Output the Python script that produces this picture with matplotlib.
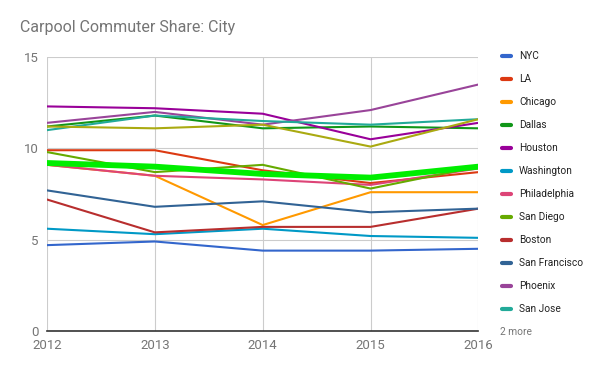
import matplotlib.pyplot as plt
from matplotlib.lines import Line2D

plt.rcParams["font.family"] = ["Roboto", "DejaVu Sans"]

years = [2012, 2013, 2014, 2015, 2016]

nyc = [4.7, 4.9, 4.4, 4.4, 4.5]
la = [9.9, 9.9, 8.8, 8.1, 8.7]
chicago = [9.1, 8.5, 5.8, 7.6, 7.6]
dallas = [11.2, 11.8, 11.1, 11.2, 11.1]
houston = [12.3, 12.2, 11.9, 10.5, 11.4]
washington = [5.6, 5.3, 5.6, 5.2, 5.1]
philadelphia = [9.1, 8.5, 8.3, 8.0, 8.9]
san_diego = [9.8, 8.7, 9.1, 7.8, 9.0]
boston = [7.2, 5.4, 5.7, 5.7, 6.7]
san_francisco = [7.7, 6.8, 7.1, 6.5, 6.7]
phoenix = [11.4, 12.0, 11.3, 12.1, 13.5]
san_jose = [11.0, 11.8, 11.5, 11.3, 11.6]
extra_olive = [11.2, 11.1, 11.3, 10.1, 11.6]
extra_green = [9.2, 9.0, 8.6, 8.4, 9.0]

series = [
    ("NYC", nyc, "#3366cc"),
    ("LA", la, "#dc3912"),
    ("Chicago", chicago, "#ff9900"),
    ("Dallas", dallas, "#109618"),
    ("Houston", houston, "#990099"),
    ("Washington", washington, "#0099c6"),
    ("Philadelphia", philadelphia, "#dd4477"),
    ("San Diego", san_diego, "#66aa00"),
    ("Boston", boston, "#b82e2e"),
    ("San Francisco", san_francisco, "#316395"),
    ("Phoenix", phoenix, "#994499"),
    ("San Jose", san_jose, "#22aa99"),
]
hidden = [
    ("extra 1", extra_olive, "#aaaa11", 1.5),
    ("extra 2", extra_green, "#00ee00", 4.2),
]

fig = plt.figure(figsize=(6, 3.71), dpi=100)
ax = fig.add_axes([0.0783, 0.108, 0.719, 0.738])

for name, vals, color in series:
    ax.plot(years, vals, color=color, lw=1.5, solid_capstyle="round")
for name, vals, color, lw in hidden:
    ax.plot(years, vals, color=color, lw=lw, solid_capstyle="round")

ax.set_xlim(2012, 2016)
ax.set_ylim(0, 15)
ax.set_xticks(years)
ax.set_yticks([0, 5, 10, 15])
ax.grid(color="#cccccc", lw=0.8)
ax.set_axisbelow(True)
for side in ["top", "right", "left"]:
    ax.spines[side].set_visible(False)
ax.spines["bottom"].set_color("#333333")
ax.spines["bottom"].set_linewidth(1.2)
ax.tick_params(length=0, colors="#757575", labelsize=9.5)
ax.tick_params(axis="x", pad=6)
ax.tick_params(axis="y", pad=6)

fig.text(0.033, 0.925, "Carpool Commuter Share: City", fontsize=11.5, color="#757575", va="center")

# legend drawn by hand to keep Google-style spacing
for i, (name, vals, color) in enumerate(series):
    y = 1 - (56 + 23 * i) / 371
    fig.add_artist(Line2D([0.837, 0.851], [y, y], color=color, lw=3, solid_capstyle="round"))
    fig.text(0.865, y, name, fontsize=7.3, color="#222222", va="center")
fig.text(0.833, 1 - (56 + 23 * 12) / 371, "2 more", fontsize=7.3, color="#757575", va="center")

fig.savefig("out.png", dpi=100)
